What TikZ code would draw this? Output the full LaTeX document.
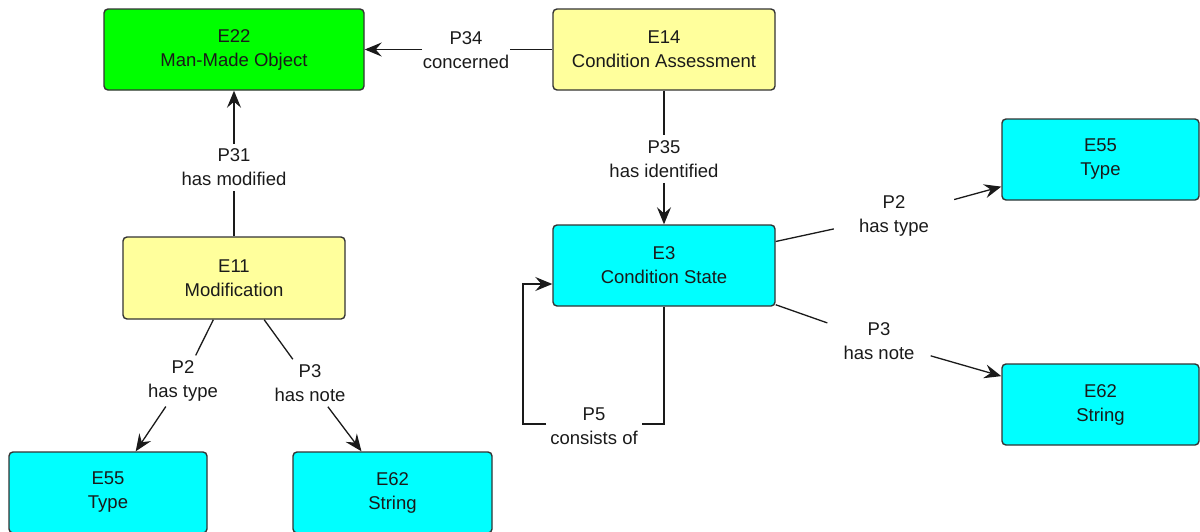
\documentclass[tikz,border=0pt]{standalone}
\usepackage{fontspec}
\setmainfont{Liberation Sans}
\usetikzlibrary{arrows.meta}
\definecolor{eg}{HTML}{00FF00}
\definecolor{ey}{HTML}{FFFF9C}
\definecolor{ec}{HTML}{00FFFF}
\definecolor{bd}{HTML}{333333}
\definecolor{tx}{HTML}{1A1A1A}
\begin{document}
\begin{tikzpicture}[x=1pt,y=-1pt,
  ent/.style={draw=bd, line width=1.4pt, rounded corners=4pt, align=center,
    font=\fontsize{18.5}{24}\selectfont, inner sep=0pt, text=tx,
    minimum height=81pt},
  lbl/.style={align=center, font=\fontsize{18.5}{24}\selectfont,
    inner xsep=2pt, inner ysep=5pt, text=tx},
  conn/.style={line width=1.3pt, draw=tx},
  arr/.style={conn, -{Stealth[length=17pt,width=14pt,inset=6pt]}}]
\useasboundingbox (0,0) rectangle (1200,531);
% entities
\node[ent, fill=eg, minimum width=260pt] (E22) at (234,49.5) {E22\\Man-Made Object};
\node[ent, fill=ey, minimum width=222pt] (E14) at (664,49.5) {E14\\Condition Assessment};
\node[ent, fill=ey, minimum width=222pt, minimum height=82pt] (E11) at (234,278) {E11\\Modification};
\node[ent, fill=ec, minimum width=222pt] (E3) at (664,265.5) {E3\\Condition State};
\node[ent, fill=ec, minimum width=198pt] (E55a) at (108,492.5) {E55\\Type};
\node[ent, fill=ec, minimum width=199pt] (E62a) at (392.5,492.5) {E62\\String};
\node[ent, fill=ec, minimum width=197pt] (E55b) at (1100.5,159.5) {E55\\Type};
\node[ent, fill=ec, minimum width=197pt] (E62b) at (1100.5,404.5) {E62\\String};
% labels
\node[lbl, inner xsep=0.5pt] (l34) at (466,50.5) {P34\\concerned};
\node[lbl] (l31) at (234,167.5) {P31\\has modified};
\node[lbl] (l35) at (664,159) {P35\\has identified};
\node[lbl] (l2a) at (183,381) {P2\\has type};
\node[lbl] (l3a) at (310,383) {P3\\has note};
\node[lbl, inner xsep=25pt] (l2b) at (894,216) {P2\\has type};
\node[lbl, inner xsep=16pt] (l3b) at (879,341) {P3\\has note};
\node[lbl, inner xsep=4pt] (l5) at (594,426) {P5\\consists of};
\coordinate (p5a) at (523,424);
\coordinate (p5b) at (523,284);
% connectors
\draw[conn] (E14.west) -- (l34.east |- E14.west);
\draw[arr] (l34.west |- E22.east) -- (E22.east);
\draw[conn] (E11) -- (l31);  \draw[arr] (l31) -- (E22);
\draw[conn] (E14) -- (l35);  \draw[arr] (l35) -- (E3);
\draw[conn] (E11) -- (l2a);  \draw[arr] (l2a) -- (E55a);
\draw[conn] (E11) -- (l3a);  \draw[arr] (l3a) -- (E62a);
\draw[conn] (E3) -- (l2b);   \draw[arr] (l2b) -- (E55b);
\draw[conn] (E3) -- (l3b);   \draw[arr] (l3b) -- (E62b);
\draw[conn] (E3.south) |- (l5.east |- p5a);
\draw[arr] (l5.west |- p5a) -- (p5a) -- (p5b) -- (p5b -| E3.west);
\end{tikzpicture}
\end{document}
